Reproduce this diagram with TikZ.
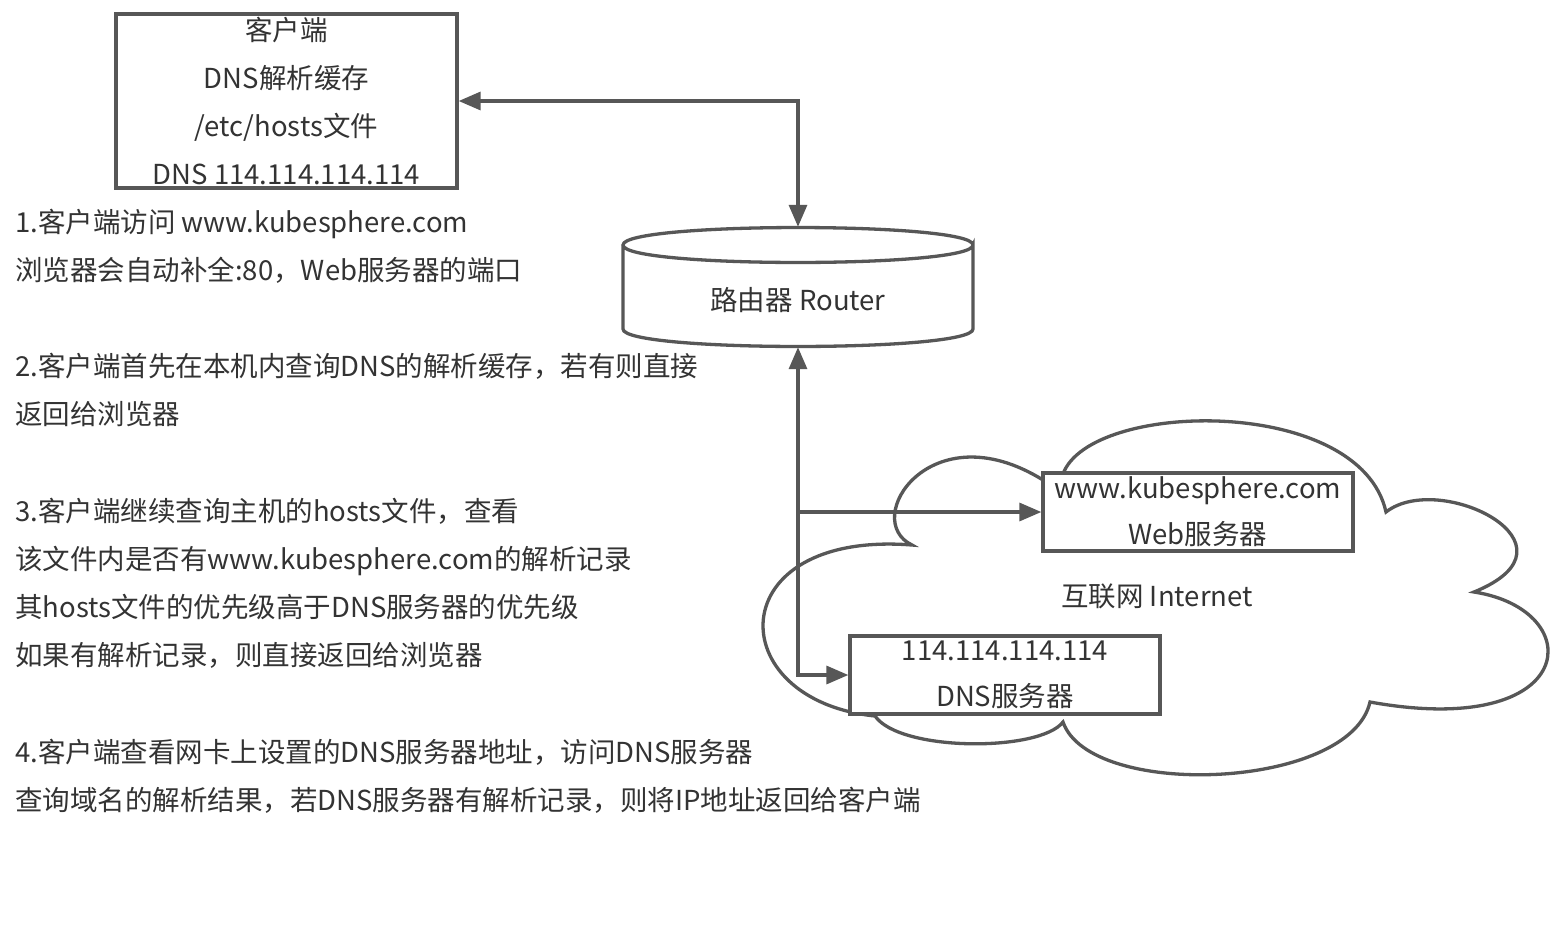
\documentclass[tikz,border=0pt]{standalone}
\usepackage{fontspec}
\setmainfont{Noto Sans CJK SC}
\usetikzlibrary{arrows.meta,positioning,calc}
\definecolor{edge}{HTML}{575757}
\definecolor{ink}{HTML}{333333}
\tikzset{
  >={Triangle[length=22pt,width=18pt]},
  block/.style = {draw=edge, line width=3.3pt, rectangle, fill=white, align=center,
                  inner sep=0pt, text=ink},
  twoline/.style = {font=\fontsize{27.5}{46}\selectfont},
  sig/.style   = {->, line width=3.3pt, draw=edge},
  outline/.style = {draw=edge, line width=3.3pt, fill=white},
  note/.style  = {anchor=west, align=left, inner sep=0pt, text=ink},
}
\begin{document}
\begin{tikzpicture}[x=1pt,y=-1pt,font=\fontsize{27.5}{48}\selectfont]
\useasboundingbox[fill=white] (0,0) rectangle (1556,935);
% cloud
\draw[outline] (1063,474) .. controls (1090,400) and (1360,395) .. (1386,512)
  .. controls (1440,470) and (1590,545) .. (1474,592)
  .. controls (1590,610) and (1580,740) .. (1370,702)
  .. controls (1350,790) and (1090,800) .. (1063,722)
  .. controls (1040,752) and (900,752) .. (875,716)
  .. controls (720,700) and (720,530) .. (912,545)
  .. controls (860,520) and (930,410) .. (1043,480) -- cycle;
\node[text=ink] (inet) at (1157,596) {互联网 Internet};
% router
\draw[outline] (623,245) -- (623,329) .. controls (623,352.3) and (973,352.3) .. (973,329)
  -- (973,245) .. controls (973,268.3) and (623,268.3) .. (623,245)
  .. controls (623,221.7) and (973,221.7) .. (973,245);
\node[minimum width=350pt, minimum height=120pt, inner sep=0pt] (router) at (798,287) {};
\node[text=ink] (routerlabel) at (798,300) {路由器 Router};
% boxes
\node[block, minimum width=341pt, minimum height=174pt] (client) at (286.5,101)
  {客户端\\DNS解析缓存\\/etc/hosts文件\\DNS 114.114.114.114};
\node[block, twoline, minimum width=310pt, minimum height=78pt] (web) at (1198,512)
  {www.kubesphere.com\\Web服务器};
\node[block, twoline, minimum width=310pt, minimum height=78pt] (dns) at (1005,675)
  {114.114.114.114\\DNS服务器};
% connectors
\draw[sig,<->] (router.north) |- (client.east);
\draw[sig,<->] (router.south) |- (dns.west);
\draw[sig] (router.south |- web.west) -- (web.west);
% notes
\node[note] (note1) at (15,246) {1.客户端访问 www.kubesphere.com\\浏览器会自动补全:80，Web服务器的端口};
\node[note] (note2) at (15,390) {2.客户端首先在本机内查询DNS的解析缓存，若有则直接\\返回给浏览器};
\node[note] (note3) at (15,583) {3.客户端继续查询主机的hosts文件，查看\\该文件内是否有www.kubesphere.com的解析记录\\其hosts文件的优先级高于DNS服务器的优先级\\如果有解析记录，则直接返回给浏览器};
\node[note] (note4) at (15,776) {4.客户端查看网卡上设置的DNS服务器地址，访问DNS服务器\\查询域名的解析结果，若DNS服务器有解析记录，则将IP地址返回给客户端};
\end{tikzpicture}
\end{document}
